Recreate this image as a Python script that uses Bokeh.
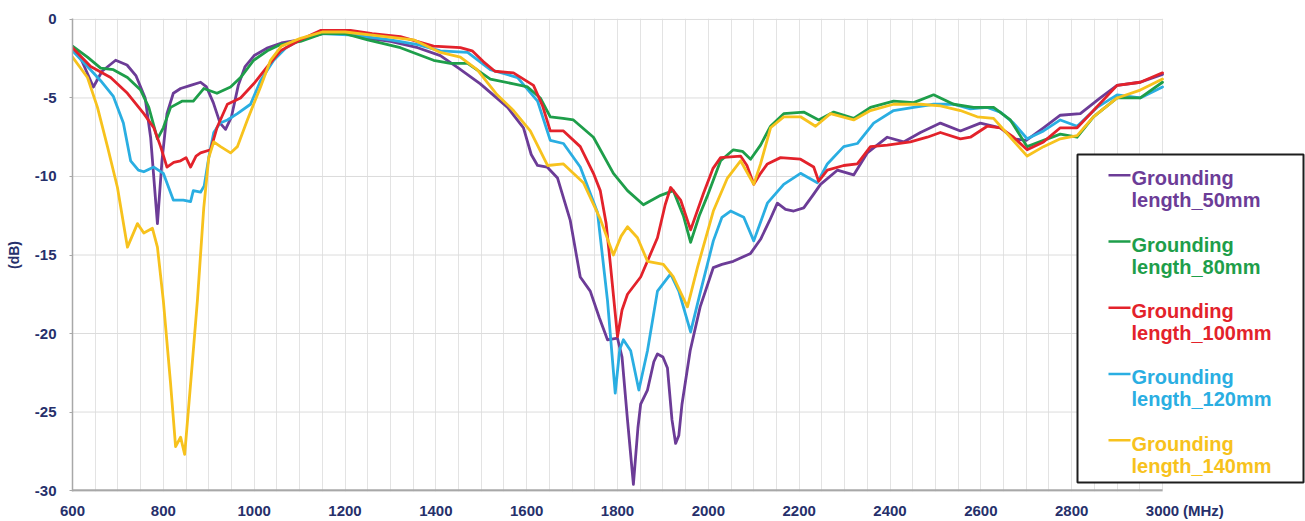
from bokeh.plotting import figure
from bokeh.models import FixedTicker, Label, BoxAnnotation
from bokeh.embed import file_html
from bokeh.resources import INLINE

freq_50 = [600, 620, 646, 665, 695, 720, 740, 760, 772, 787, 797, 808, 822, 838, 860, 882, 895, 910, 925, 937, 950, 965, 980, 1000, 1030, 1060, 1100, 1150, 1200, 1250, 1300, 1360, 1410, 1450, 1498, 1530, 1558, 1593, 1610, 1624, 1645, 1668, 1696, 1718, 1740, 1760, 1778, 1800, 1810, 1822, 1835, 1845, 1851, 1866, 1880, 1888, 1900, 1910, 1920, 1928, 1935, 1942, 1960, 1982, 2011, 2030, 2055, 2093, 2115, 2135, 2152, 2170, 2188, 2210, 2230, 2247, 2284, 2320, 2350, 2394, 2430, 2467, 2511, 2555, 2599, 2643, 2672, 2700, 2738, 2775, 2819, 2863, 2900, 2951, 3000]
db_50 = [-1.7, -2.6, -4.3, -3.3, -2.6, -2.9, -3.6, -5.0, -7.5, -13.0, -9.0, -6.0, -4.7, -4.4, -4.2, -4.0, -4.3, -5.3, -6.6, -7.0, -6.2, -4.2, -3.0, -2.3, -1.8, -1.5, -1.3, -0.9, -0.9, -1.2, -1.4, -1.8, -2.3, -3.1, -4.1, -4.9, -5.6, -6.9, -8.6, -9.3, -9.4, -10.1, -12.8, -16.4, -17.3, -19.0, -20.4, -20.3, -21.5, -25.5, -29.6, -26.0, -24.5, -23.6, -21.8, -21.3, -21.5, -22.2, -25.5, -27.0, -26.5, -24.5, -21.1, -18.3, -15.8, -15.6, -15.4, -14.9, -14.0, -12.8, -11.7, -12.1, -12.2, -12.0, -11.2, -10.5, -9.6, -9.9, -8.5, -7.5, -7.8, -7.2, -6.6, -7.1, -6.6, -6.9, -7.6, -7.7, -6.9, -6.1, -6.0, -5.0, -4.2, -4.0, -3.5]

freq_80 = [600, 633, 662, 690, 721, 750, 768, 787, 800, 816, 842, 866, 889, 918, 948, 970, 999, 1029, 1058, 1102, 1150, 1200, 1250, 1322, 1395, 1432, 1470, 1520, 1571, 1602, 1630, 1652, 1680, 1703, 1747, 1791, 1822, 1857, 1895, 1923, 1945, 1961, 1980, 1997, 2027, 2055, 2075, 2093, 2115, 2137, 2166, 2210, 2243, 2276, 2320, 2357, 2408, 2452, 2496, 2540, 2584, 2628, 2665, 2702, 2738, 2775, 2812, 2848, 2900, 2951, 3000]
db_80 = [-1.7, -2.4, -3.1, -3.2, -3.7, -4.5, -5.6, -7.6, -6.9, -5.6, -5.2, -5.2, -4.4, -4.7, -4.3, -3.7, -2.6, -2.0, -1.6, -1.4, -0.9, -0.9, -1.3, -1.8, -2.6, -2.8, -2.8, -3.8, -4.1, -4.3, -5.0, -6.2, -6.3, -6.4, -7.5, -9.8, -10.9, -11.8, -11.2, -10.9, -12.5, -14.2, -12.5, -11.3, -9.0, -8.3, -8.4, -8.9, -8.0, -6.8, -6.0, -5.9, -6.4, -5.9, -6.3, -5.6, -5.2, -5.3, -4.8, -5.4, -5.6, -5.6, -6.4, -8.1, -7.7, -7.3, -7.5, -6.2, -5.0, -5.0, -4.0]

freq_100 = [600, 640, 684, 721, 757, 779, 794, 808, 823, 838, 850, 860, 872, 882, 904, 918, 941, 970, 999, 1029, 1058, 1102, 1146, 1212, 1260, 1322, 1395, 1454, 1480, 1505, 1530, 1571, 1615, 1635, 1652, 1681, 1718, 1747, 1762, 1775, 1784, 1800, 1810, 1822, 1851, 1888, 1905, 1917, 1939, 1961, 1989, 2010, 2027, 2071, 2085, 2100, 2115, 2130, 2159, 2203, 2232, 2243, 2262, 2298, 2328, 2357, 2394, 2445, 2482, 2511, 2555, 2577, 2614, 2643, 2672, 2702, 2738, 2775, 2812, 2848, 2900, 2951, 3000]
db_100 = [-1.8, -3.0, -3.7, -4.7, -6.0, -6.9, -8.1, -9.4, -9.1, -9.0, -8.8, -9.4, -8.7, -8.5, -8.3, -6.9, -5.4, -5.0, -4.1, -3.0, -2.0, -1.3, -0.7, -0.7, -0.9, -1.1, -1.7, -1.8, -2.0, -2.7, -3.3, -3.4, -4.2, -5.5, -7.1, -7.1, -8.1, -9.8, -10.9, -13.0, -15.5, -20.2, -18.5, -17.5, -16.4, -13.9, -11.8, -10.7, -11.5, -13.4, -11.1, -9.5, -8.8, -8.7, -9.3, -10.5, -9.8, -9.2, -8.8, -8.9, -9.4, -10.3, -9.6, -9.3, -9.2, -8.1, -8.0, -7.8, -7.5, -7.2, -7.6, -7.5, -6.8, -6.9, -7.5, -8.3, -7.8, -6.9, -6.9, -5.8, -4.2, -4.0, -3.4]

freq_120 = [600, 633, 662, 690, 712, 728, 745, 757, 779, 800, 822, 844, 860, 866, 882, 890, 900, 911, 925, 941, 963, 992, 1014, 1043, 1070, 1102, 1146, 1219, 1300, 1360, 1410, 1470, 1520, 1580, 1624, 1652, 1681, 1718, 1756, 1778, 1795, 1805, 1813, 1829, 1847, 1866, 1888, 1917, 1935, 1961, 1983, 2011, 2030, 2049, 2078, 2100, 2130, 2166, 2203, 2240, 2262, 2298, 2328, 2364, 2408, 2452, 2496, 2540, 2577, 2614, 2643, 2672, 2702, 2738, 2775, 2812, 2856, 2900, 2951, 3000]
db_120 = [-2.0, -3.0, -3.9, -4.9, -6.6, -9.0, -9.6, -9.7, -9.4, -9.8, -11.5, -11.5, -11.6, -10.9, -11.0, -10.6, -8.8, -7.2, -6.6, -6.4, -6.0, -5.4, -3.9, -2.6, -1.8, -1.3, -0.9, -1.0, -1.3, -1.6, -2.0, -2.1, -3.2, -3.7, -5.2, -7.7, -7.9, -9.4, -12.3, -17.9, -23.8, -21.0, -20.4, -21.1, -23.6, -21.1, -17.3, -16.2, -17.3, -19.9, -17.3, -14.1, -12.6, -12.2, -12.6, -14.1, -11.7, -10.5, -9.8, -10.4, -9.2, -8.1, -7.9, -6.6, -5.8, -5.6, -5.4, -5.4, -5.7, -5.6, -5.9, -6.6, -7.6, -7.1, -6.4, -6.8, -5.6, -4.8, -5.0, -4.3]

freq_140 = [600, 633, 655, 677, 699, 721, 743, 757, 776, 787, 800, 816, 827, 838, 847, 860, 875, 889, 900, 911, 926, 948, 963, 985, 1014, 1036, 1060, 1102, 1150, 1200, 1260, 1351, 1410, 1454, 1491, 1535, 1571, 1608, 1646, 1681, 1725, 1762, 1791, 1808, 1822, 1844, 1866, 1901, 1923, 1954, 1976, 2011, 2042, 2071, 2100, 2115, 2137, 2166, 2203, 2236, 2269, 2320, 2357, 2408, 2467, 2511, 2555, 2592, 2628, 2665, 2702, 2738, 2775, 2812, 2848, 2900, 2951, 3000]
db_140 = [-2.4, -3.7, -5.6, -8.1, -10.7, -14.5, -13.0, -13.6, -13.3, -14.5, -17.9, -23.2, -27.2, -26.6, -27.7, -23.2, -17.9, -12.0, -8.8, -7.8, -8.1, -8.5, -8.1, -6.4, -4.3, -2.6, -1.7, -1.2, -0.8, -0.8, -1.0, -1.3, -2.1, -2.4, -3.2, -4.8, -5.8, -7.1, -9.3, -9.2, -10.4, -12.7, -15.0, -13.8, -13.2, -13.9, -15.4, -15.6, -16.4, -18.3, -15.8, -12.2, -10.1, -9.0, -10.5, -9.2, -6.9, -6.2, -6.2, -6.8, -6.0, -6.4, -5.8, -5.4, -5.4, -5.5, -5.8, -6.2, -6.3, -7.5, -8.7, -8.1, -7.6, -7.4, -6.2, -5.0, -4.5, -3.8]

series_labels = ["length_50mm", "length_80mm", "length_100mm", "length_120mm", "length_140mm"]
series_colors = ["#6c3c97", "#1e9e4a", "#e3222b", "#2aaee2", "#f7c21d"]
x_ticks = list(range(600, 3001, 200))
y_ticks = list(range(-30, 1, 5))
y_tick_labels = ["-30", "-25", "-20", "-15", "-10", "-5", "0"]
x_unit_label = "(MHz)"

NAVY = "#26306b"
FONT = "Liberation Sans"

W, H = 1305, 521
FL, FR_PX = 72, 1162          # frame left / where 3000 MHz sits
PXPM = (FR_PX - FL) / 2400.0  # px per MHz
x_end = 600 + (W - FL) / PXPM

p = figure(width=W, height=H, x_range=(600, x_end), y_range=(-30.06, 0.06),
           output_backend="svg", toolbar_location=None,
           min_border_left=FL, min_border_right=0, min_border_top=18, min_border_bottom=30)
p.outline_line_color = None
p.background_fill_color = "white"

# grids
p.xgrid.ticker = FixedTicker(ticks=list(range(600, 3001, 50)))
p.xgrid.grid_line_color = "#e3e3e3"
p.ygrid.visible = False
hy = [v for v in y_ticks if v > -30]
p.segment(x0=[600] * len(hy), x1=[3000] * len(hy), y0=hy, y1=hy, line_color="#dcdcdc", line_width=1)
p.segment(x0=[600], x1=[3000], y0=[-30], y1=[-30], line_color="#a8a8a8", line_width=2.5)

# axes
p.xaxis.ticker = FixedTicker(ticks=x_ticks + [3090])
p.xaxis.major_label_overrides = {3090: x_unit_label}
p.xaxis.axis_line_color = None
p.xaxis.major_tick_out = 0
p.xaxis.major_tick_in = 0
p.xaxis.major_label_standoff = 10

p.yaxis.ticker = FixedTicker(ticks=y_ticks)
p.yaxis.major_label_overrides = {t: s for t, s in zip(y_ticks, y_tick_labels)}
p.yaxis.axis_line_color = "#a8a8a8"
p.yaxis.axis_line_width = 1.5
p.yaxis.major_tick_line_color = "#a8a8a8"
p.yaxis.major_tick_in = 0
p.yaxis.major_tick_out = 3
p.yaxis.major_label_standoff = 13

for ax in (p.xaxis, p.yaxis):
    ax.minor_tick_line_color = None
    ax.major_label_text_font = FONT
    ax.major_label_text_font_style = "bold"
    ax.major_label_text_font_size = "15px"
    ax.major_label_text_color = NAVY

p.yaxis.axis_label = "(dB)"
p.yaxis.axis_label_text_font = FONT
p.yaxis.axis_label_text_font_style = "bold"
p.yaxis.axis_label_text_font_size = "14px"
p.yaxis.axis_label_text_color = NAVY
p.yaxis.axis_label_standoff = 10

data = [(freq_50, db_50), (freq_80, db_80), (freq_100, db_100), (freq_120, db_120), (freq_140, db_140)]
order = [0, 3, 1, 2, 4]
for i in order:
    f, d = data[i]
    p.line(f, d, line_color=series_colors[i], line_width=2.8, line_join="round", line_cap="round")

# legend drawn inside the (wide) frame
def px2f(page_x):
    return 600 + (page_x - FL) / PXPM

def py2db(page_y):
    return -(page_y - 19) / (471 / 30)

box = BoxAnnotation(left=px2f(1077), right=px2f(1303), top=py2db(154), bottom=py2db(482),
                    fill_color="white", fill_alpha=1.0, line_color="#1e1e1e", line_alpha=1.0,
                    line_width=2)
p.add_layout(box)

for i, lab in enumerate(series_labels):
    base = 178 + 66.25 * i
    seg = BoxAnnotation(left=px2f(1108), right=px2f(1130), top=py2db(base - 4.5), bottom=py2db(base - 2),
                        fill_color=series_colors[i], fill_alpha=1.0, line_color=None)
    p.add_layout(seg)
    for j, txt in enumerate(["Grounding", lab]):
        p.add_layout(Label(x=px2f(1131), y=py2db(base + 22 * j), text=txt,
                           text_font=FONT, text_font_style="bold", text_font_size="20px",
                           text_color=series_colors[i], text_baseline="alphabetic", text_align="left"))

open("out.html", "w").write(file_html(p, INLINE))
